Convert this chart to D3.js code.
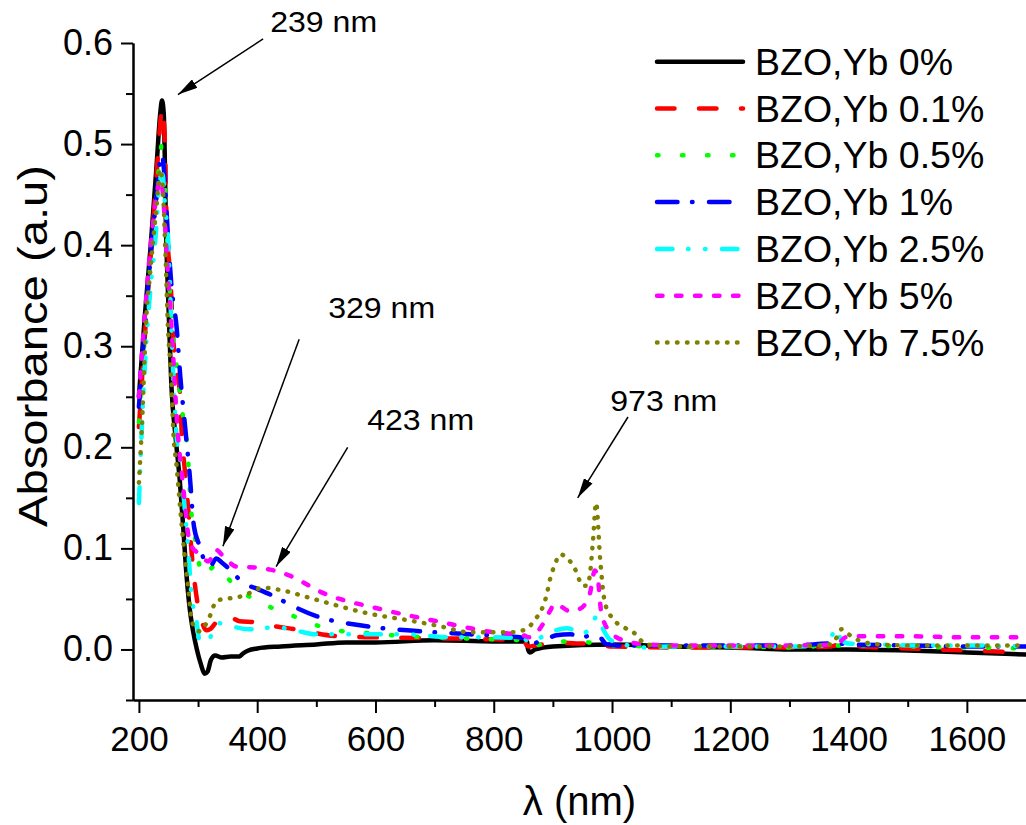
<!DOCTYPE html>
<html>
<head>
<meta charset="utf-8">
<script src="https://cdn.jsdelivr.net/npm/d3@7"></script>
<style>
  body { margin: 0; background: #fff; }
  text { font-family: "Liberation Sans", Arial, sans-serif; }
</style>
</head>
<body>
<svg id="mainsvg" width="1026" height="825"></svg>
<script>
// wavelength (nm) and absorbance, one pair of arrays per sample
const names = ['BZO,Yb 0%', 'BZO,Yb 0.1%', 'BZO,Yb 0.5%', 'BZO,Yb 1%', 'BZO,Yb 2.5%', 'BZO,Yb 5%', 'BZO,Yb 7.5%'];

const wl0 = [200, 210, 220, 230, 236, 239, 242, 246, 250, 255, 262, 269, 275, 281, 286, 291, 298, 305, 311, 316, 322, 329, 340, 355, 370, 376, 385, 400, 440, 500, 550, 600, 700, 800, 856, 858, 861, 870, 900, 1000, 1100, 1200, 1300, 1400, 1500, 1600, 1700];
const ab0 = [0.25, 0.33, 0.40, 0.48, 0.53, 0.543, 0.53, 0.41, 0.34, 0.26, 0.21, 0.168, 0.12, 0.07, 0.04, 0.02, 0.0, -0.015, -0.024, -0.022, -0.01, -0.006, -0.008, -0.007, -0.007, -0.004, -0.001, 0.001, 0.003, 0.005, 0.007, 0.007, 0.009, 0.008, 0.008, 0.0, -0.003, 0.0, 0.003, 0.005, 0.003, 0.002, 0.0, 0.0, -0.001, -0.003, -0.005];

const wl1 = [200, 210, 220, 230, 236, 239, 241, 244, 247, 253, 259, 264, 269, 272, 278, 284, 290, 298, 304, 314, 320, 335, 348, 370, 396, 430, 464, 538, 600, 709, 800, 850, 856, 860, 870, 900, 912, 940, 960, 980, 1000, 1100, 1200, 1300, 1370, 1390, 1400, 1420, 1500, 1600, 1700];
const ab1 = [0.22, 0.31, 0.39, 0.47, 0.52, 0.536, 0.53, 0.50, 0.42, 0.37, 0.30, 0.275, 0.257, 0.218, 0.175, 0.135, 0.09, 0.05, 0.033, 0.019, 0.02, 0.03, 0.034, 0.028, 0.027, 0.023, 0.02, 0.013, 0.012, 0.011, 0.010, 0.009, 0.004, 0.003, 0.004, 0.006, 0.007, 0.006, 0.006, 0.004, 0.003, 0.002, 0.002, 0.002, 0.003, 0.006, 0.005, 0.003, 0.001, -0.001, -0.003];

const wl2 = [200, 210, 220, 230, 236, 239, 243, 248, 255, 262, 272, 283, 288, 294, 300, 308, 316, 322, 331, 340, 351, 380, 418, 461, 500, 545, 591, 650, 700, 800, 850, 858, 862, 880, 920, 960, 1000, 1100, 1200, 1300, 1380, 1400, 1500, 1600, 1700];
const ab2 = [0.225, 0.31, 0.385, 0.45, 0.49, 0.50, 0.47, 0.40, 0.33, 0.29, 0.241, 0.19, 0.14, 0.114, 0.09, 0.073, 0.075, 0.08, 0.083, 0.078, 0.07, 0.055, 0.043, 0.033, 0.024, 0.018, 0.016, 0.013, 0.012, 0.01, 0.009, 0.005, 0.003, 0.005, 0.008, 0.007, 0.004, 0.003, 0.003, 0.002, 0.004, 0.004, 0.003, 0.002, 0.001];

const wl3 = [200, 210, 220, 230, 236, 239, 243, 248, 255, 264, 270, 278, 286, 293, 303, 312, 320, 331, 340, 354, 376, 400, 427, 460, 500, 585, 675, 760, 844, 855, 862, 880, 906, 930, 950, 968, 980, 991, 1010, 1100, 1200, 1300, 1380, 1400, 1500, 1600, 1700];
const ab3 = [0.24, 0.32, 0.39, 0.45, 0.485, 0.49, 0.47, 0.42, 0.36, 0.317, 0.27, 0.221, 0.172, 0.122, 0.102, 0.086, 0.082, 0.09, 0.086, 0.079, 0.066, 0.06, 0.053, 0.043, 0.033, 0.023, 0.018, 0.015, 0.012, 0.01, 0.006, 0.008, 0.014, 0.015, 0.012, 0.015, 0.012, 0.005, 0.004, 0.004, 0.004, 0.004, 0.006, 0.005, 0.004, 0.003, 0.003];

const wl4 = [200, 205, 210, 220, 227, 236, 240, 244, 250, 256, 264, 272, 276, 283, 289, 297, 303, 310, 320, 335, 350, 386, 432, 470, 499, 647, 731, 800, 850, 858, 863, 880, 900, 924, 949, 965, 974, 985, 996, 1020, 1058, 1100, 1200, 1300, 1360, 1370, 1377, 1385, 1400, 1450, 1500, 1600, 1700];
const ab4 = [0.145, 0.22, 0.28, 0.36, 0.40, 0.465, 0.47, 0.44, 0.40, 0.30, 0.208, 0.178, 0.149, 0.102, 0.053, 0.03, 0.008, 0.01, 0.012, 0.026, 0.024, 0.02, 0.022, 0.018, 0.015, 0.015, 0.012, 0.012, 0.011, 0.008, 0.007, 0.012, 0.018, 0.021, 0.016, 0.022, 0.033, 0.02, 0.01, 0.005, 0.002, 0.003, 0.003, 0.003, 0.004, 0.01, 0.021, 0.012, 0.006, 0.005, 0.004, 0.004, 0.003];

const wl5 = [200, 210, 220, 230, 237, 242, 248, 255, 265, 275, 286, 300, 310, 317, 322, 329, 343, 365, 400, 422, 455, 511, 608, 703, 800, 850, 860, 870, 883, 895, 903, 915, 928, 945, 962, 971, 976, 982, 996, 1025, 1060, 1100, 1200, 1300, 1380, 1395, 1420, 1500, 1600, 1700];
const ab5 = [0.25, 0.33, 0.40, 0.45, 0.465, 0.44, 0.38, 0.32, 0.22, 0.16, 0.106, 0.095, 0.09, 0.087, 0.09, 0.099, 0.092, 0.082, 0.081, 0.079, 0.073, 0.056, 0.04, 0.028, 0.017, 0.014, 0.012, 0.015, 0.025, 0.038, 0.045, 0.042, 0.038, 0.04, 0.054, 0.078, 0.07, 0.036, 0.018, 0.008, 0.005, 0.004, 0.004, 0.004, 0.005, 0.012, 0.013, 0.013, 0.012, 0.012];

const wl6 = [200, 205, 213, 218, 230, 236, 240, 245, 249, 255, 258, 264, 269, 278, 283, 289, 295, 303, 312, 320, 331, 345, 359, 376, 410, 438, 495, 585, 664, 709, 760, 827, 850, 861, 870, 878, 889, 895, 904, 912, 925, 937, 951, 958, 963, 968, 973, 980, 988, 1002, 1020, 1036, 1058, 1100, 1200, 1300, 1370, 1380, 1388, 1400, 1413, 1450, 1500, 1600, 1700];
const ab6 = [0.165, 0.22, 0.333, 0.366, 0.44, 0.475, 0.46, 0.39, 0.32, 0.264, 0.218, 0.18, 0.145, 0.089, 0.063, 0.03, 0.021, 0.018, 0.024, 0.033, 0.048, 0.05, 0.051, 0.053, 0.061, 0.059, 0.05, 0.036, 0.028, 0.023, 0.017, 0.017, 0.019, 0.023, 0.03, 0.036, 0.053, 0.069, 0.085, 0.094, 0.09, 0.08, 0.063, 0.063, 0.076, 0.109, 0.145, 0.089, 0.046, 0.03, 0.022, 0.017, 0.005, 0.003, 0.003, 0.003, 0.005, 0.012, 0.02, 0.015, 0.01, 0.005, 0.004, 0.004, 0.004];

const xMajor = [200, 400, 600, 800, 1000, 1200, 1400, 1600];
const xMinor = [300, 500, 700, 900, 1100, 1300, 1500];
const yMajor = [0.0, 0.1, 0.2, 0.3, 0.4, 0.5, 0.6];
const yMinor = [-0.05, 0.05, 0.15, 0.25, 0.35, 0.45, 0.55];

// peak labels: text position and arrow tail/tip, all in data units
const notes = [
  {label: '239 nm', tx: 422, ty: 0.611, x1: 410, y1: 0.604, x2: 266, y2: 0.549},
  {label: '329 nm', tx: 520, ty: 0.328, x1: 471, y1: 0.307, x2: 342, y2: 0.102},
  {label: '423 nm', tx: 586, ty: 0.217, x1: 553, y1: 0.200, x2: 432, y2: 0.082},
  {label: '973 nm', tx: 997, ty: 0.236, x1: 1027, y1: 0.230, x2: 942, y2: 0.150}
];

const wls = [wl0, wl1, wl2, wl3, wl4, wl5, wl6];
const abs = [ab0, ab1, ab2, ab3, ab4, ab5, ab6];
const colors = ['#000000', '#ff0000', '#00ff00', '#0000ff', '#00ffff', '#ff00ff', '#808000'];
const dashes = ['none', '17.5,24.5', '1.5,23.5', '20.5,14.5,0.5,16.5', '15.5,15.5,0.5,16.5,0.5,16.5', '5.5,13.5', '0.5,9.5'];

const svg = d3.select('#mainsvg');
const width = +svg.attr('width');
const height = +svg.attr('height');
const margin = {top: 43, right: 0, bottom: 125, left: 133};

const xScale = d3.scaleLinear().domain([190, 1700]).range([margin.left, width - margin.right]);
const yScale = d3.scaleLinear().domain([-0.05, 0.6]).range([height - margin.bottom, margin.top]);

const line = d3.line()
  .x(d => xScale(d[0]))
  .y(d => yScale(d[1]))
  .curve(d3.curveMonotoneX);

const plot = svg.append('g');
wls.forEach((wl, i) => {
  const pts = wl.map((w, j) => [w, abs[i][j]]);
  plot.append('path')
    .attr('d', line(pts))
    .attr('fill', 'none')
    .attr('stroke', colors[i])
    .attr('stroke-width', 4.5)
    .attr('stroke-linecap', 'round')
    .attr('stroke-linejoin', 'round')
    .attr('stroke-dasharray', dashes[i]);
});

// axes
const y0 = height - margin.bottom;
const xAxis = d3.axisBottom(xScale).tickValues(xMajor).tickSize(13).tickSizeOuter(0).tickFormat(d3.format('d'));
const xAxisMinor = d3.axisBottom(xScale).tickValues(xMinor).tickSize(7).tickSizeOuter(0).tickFormat('');
const yAxis = d3.axisLeft(yScale).tickValues(yMajor).tickSize(12).tickSizeOuter(0).tickFormat(d3.format('.1f'));
const yAxisMinor = d3.axisLeft(yScale).tickValues(yMinor).tickSize(7).tickSizeOuter(0).tickFormat('');

const gx = svg.append('g').attr('transform', `translate(0, ${y0})`).call(xAxis);
svg.append('g').attr('transform', `translate(0, ${y0})`).call(xAxisMinor);
const gy = svg.append('g').attr('transform', `translate(${margin.left}, 0)`).call(yAxis);
svg.append('g').attr('transform', `translate(${margin.left}, 0)`).call(yAxisMinor);

svg.selectAll('.domain, .tick line').attr('stroke', '#000').attr('stroke-width', 2);
svg.selectAll('.tick text').attr('fill', '#000').attr('font-size', 36).attr('font-family', '"Liberation Sans", Arial, sans-serif');
gx.selectAll('.tick text').attr('font-size', 35).attr('y', 26);
gy.selectAll('.tick text').attr('x', -20);

// axis titles
svg.append('text')
  .text('λ (nm)')
  .attr('x', (margin.left + width) / 2)
  .attr('y', 815)
  .attr('text-anchor', 'middle')
  .attr('font-size', 40);

svg.append('text')
  .text('Absorbance (a.u)')
  .attr('transform', `translate(47, 346) rotate(-90)`)
  .attr('text-anchor', 'middle')
  .attr('font-size', 41)
  .attr('textLength', 362)
  .attr('lengthAdjust', 'spacingAndGlyphs');

// annotations
svg.append('defs').append('marker')
  .attr('id', 'arrow')
  .attr('viewBox', '0 0 20 10')
  .attr('refX', 20).attr('refY', 5)
  .attr('markerWidth', 20).attr('markerHeight', 10)
  .attr('markerUnits', 'userSpaceOnUse')
  .attr('orient', 'auto')
  .append('path').attr('d', 'M0,0 L20,5 L0,10 Z').attr('fill', '#000');

notes.forEach(n => {
  svg.append('line')
    .attr('x1', xScale(n.x1)).attr('y1', yScale(n.y1))
    .attr('x2', xScale(n.x2)).attr('y2', yScale(n.y2))
    .attr('stroke', '#000').attr('stroke-width', 1.5)
    .attr('marker-end', 'url(#arrow)');
  svg.append('text')
    .text(n.label)
    .attr('x', xScale(n.tx)).attr('y', yScale(n.ty))
    .attr('font-size', 30)
    .attr('textLength', 107)
    .attr('lengthAdjust', 'spacingAndGlyphs');
});

// legend
const legend = svg.append('g').attr('transform', 'translate(655, 61.7)');
names.forEach((name, i) => {
  const row = legend.append('g').attr('transform', `translate(0, ${i * 46.8})`);
  row.append('line')
    .attr('x1', 2).attr('x2', 88).attr('y1', 0).attr('y2', 0)
    .attr('stroke', colors[i])
    .attr('stroke-width', 4.5)
    .attr('stroke-linecap', 'round')
    .attr('stroke-dasharray', dashes[i]);
  row.append('text')
    .text(name)
    .attr('x', 100).attr('y', 13)
    .attr('font-size', 37.5);
});
</script>
</body>
</html>
